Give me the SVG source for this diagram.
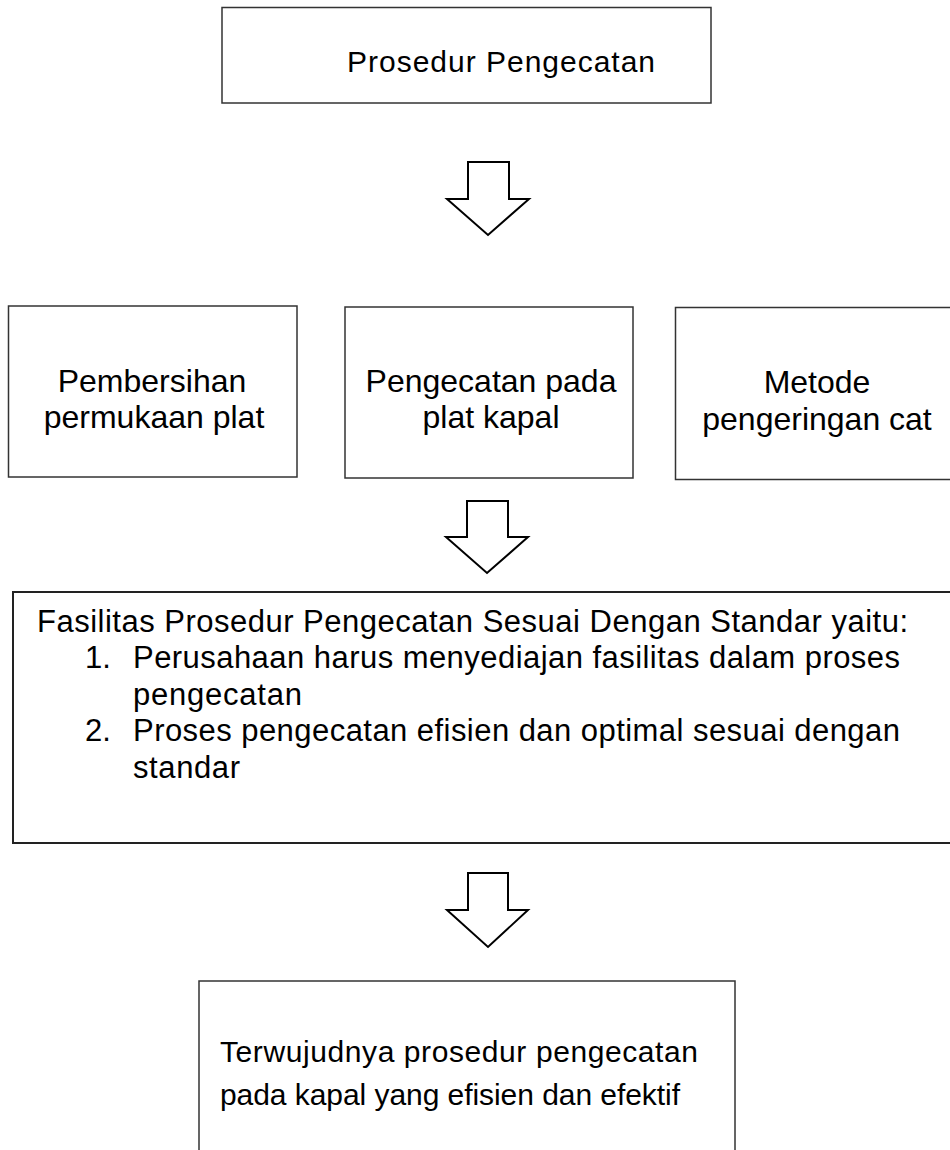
<svg xmlns="http://www.w3.org/2000/svg" width="950" height="1150" viewBox="0 0 950 1150">
<style>
.box{fill:#ffffff;stroke:#333333;stroke-width:1.5}
.bigbox{fill:#ffffff;stroke:#222222;stroke-width:2}
.arrow{fill:#ffffff;stroke:#000000;stroke-width:2;stroke-linejoin:miter}
text{font-family:"Liberation Sans",Arial,sans-serif;fill:#000000}
.t32{font-size:32px}
.t31{font-size:31px}
.t30{font-size:30px}
.mid{text-anchor:middle}
</style>
<rect width="950" height="1150" fill="#ffffff"/>
<g id="node-prosedur">
<rect class="box" x="222" y="7.5" width="489" height="95.5"/>
<text class="t30" x="347" y="72" textLength="308" lengthAdjust="spacing">Prosedur Pengecatan</text>
</g>
<g id="connectors">
<polygon class="arrow" points="468,162 509,162 509,199 529,199 488,235 447,199 468,199"/>
<polygon class="arrow" points="467,501 508,501 508,537 528,537 487,573 446,537 467,537"/>
<polygon class="arrow" points="468,873 508,873 508,910 528,910 488,947 447,910 468,910"/>
</g>
<g id="node-pembersihan">
<rect class="box" x="8.5" y="306" width="288.5" height="171"/>
<text class="t32 mid" x="152" y="392">Pembersihan</text>
<text class="t32 mid" x="154" y="428">permukaan plat</text>
</g>
<g id="node-pengecatan">
<rect class="box" x="345" y="307" width="288" height="171"/>
<text class="t32 mid" x="491" y="392">Pengecatan pada</text>
<text class="t32 mid" x="491" y="428">plat kapal</text>
</g>
<g id="node-metode">
<rect class="box" x="675.5" y="307.5" width="285" height="172"/>
<text class="t32 mid" x="817" y="393">Metode</text>
<text class="t32 mid" x="817" y="430">pengeringan cat</text>
</g>
<g id="node-fasilitas">
<rect class="bigbox" x="13" y="592" width="950" height="251"/>
<text class="t31" x="37" y="632" textLength="871" lengthAdjust="spacing">Fasilitas Prosedur Pengecatan Sesuai Dengan Standar yaitu:</text>
<text class="t31" x="85" y="668">1.</text>
<text class="t31" x="133" y="668" textLength="767" lengthAdjust="spacing">Perusahaan harus menyediajan fasilitas dalam proses</text>
<text class="t31" x="133" y="705" textLength="169" lengthAdjust="spacing">pengecatan</text>
<text class="t31" x="85" y="741">2.</text>
<text class="t31" x="133" y="741" textLength="767" lengthAdjust="spacing">Proses pengecatan efisien dan optimal sesuai dengan</text>
<text class="t31" x="133" y="778" textLength="107" lengthAdjust="spacing">standar</text>
</g>
<g id="node-terwujudnya">
<rect class="box" x="199" y="981" width="536" height="200"/>
<text class="t30" x="220" y="1062" textLength="478" lengthAdjust="spacing">Terwujudnya  prosedur  pengecatan</text>
<text class="t30" x="220" y="1105" textLength="460" lengthAdjust="spacing">pada kapal yang efisien dan efektif</text>
</g>
</svg>
